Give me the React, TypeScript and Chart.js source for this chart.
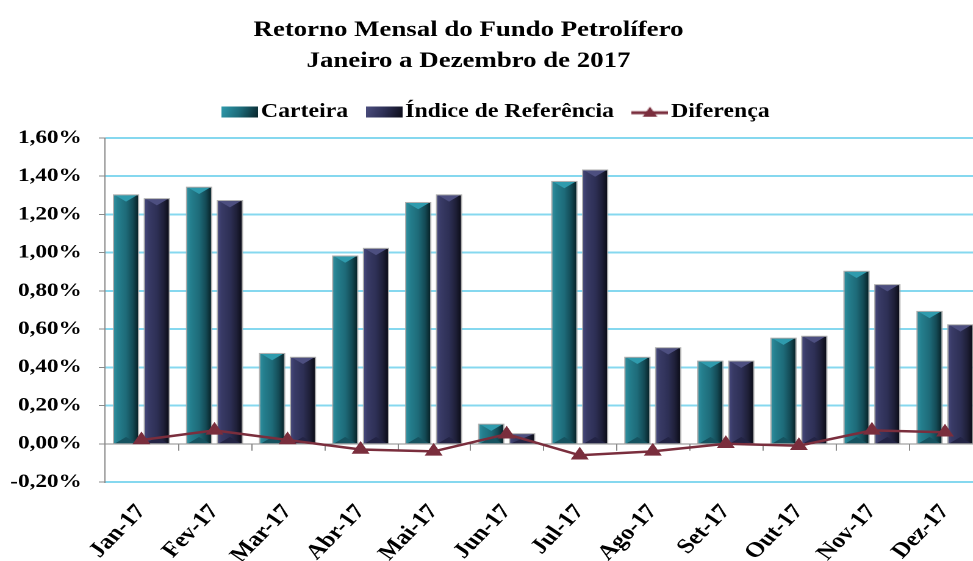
import React, { useEffect, useRef } from 'react';
import { Chart, registerables } from 'chart.js';

Chart.register(...registerables);

// ---------- data ----------
const categories = ['Jan-17', 'Fev-17', 'Mar-17', 'Abr-17', 'Mai-17', 'Jun-17', 'Jul-17', 'Ago-17', 'Set-17', 'Out-17', 'Nov-17', 'Dez-17'];
const carteira = [1.30, 1.34, 0.47, 0.98, 1.26, 0.10, 1.37, 0.45, 0.43, 0.55, 0.90, 0.69];
const indice = [1.28, 1.27, 0.45, 1.02, 1.30, 0.05, 1.43, 0.50, 0.43, 0.56, 0.83, 0.62];
const diferenca = [0.02, 0.07, 0.02, -0.03, -0.04, 0.05, -0.06, -0.04, 0.00, -0.01, 0.07, 0.06];
const seriesNames = ['Carteira', 'Índice de Referência', 'Diferença'];
const titleLines = ['Retorno Mensal do Fundo Petrolífero', 'Janeiro a Dezembro de 2017'];
const yMin = -0.2;
const yMax = 1.6;
const yStep = 0.2;

// ---------- style / layout ----------
const FONT = '"Liberation Serif", "Times New Roman", serif';
const STRETCH = 1.22; // the reference is horizontally stretched
const CANVAS_W = 813;
const CANVAS_H = 561;
const TITLE_X = 384;
const TITLE_Y = [36, 67];
const Y_AXIS_W = 78;
const X_AXIS_H = 79;

const palettes = [
  { edge: '#2f8e9e', light: '#257f8e', base: '#1e6b79', shade: '#144b56', dark: '#08242a', top: '#2f9bad', bottom: '#165360' },
  { edge: '#45477a', light: '#393b66', base: '#2e3056', shade: '#1f2039', dark: '#0c0d19', top: '#4d4f80', bottom: '#232445' },
];
const lineColor = '#7a2e3d';

function drawBevelBar(ctx: CanvasRenderingContext2D, el: any, pal: any) {
  const p = el.getProps(['x', 'y', 'base', 'width'], true);
  const l = p.x - p.width / 2;
  const r = p.x + p.width / 2;
  const t = Math.min(p.y, p.base);
  const b = Math.max(p.y, p.base);
  const h = b - t;
  if (h <= 0) return;
  const g = ctx.createLinearGradient(l, 0, r, 0);
  g.addColorStop(0, pal.edge);
  g.addColorStop(0.15, pal.light);
  g.addColorStop(0.5, pal.base);
  g.addColorStop(0.78, pal.shade);
  g.addColorStop(1, pal.dark);
  ctx.fillStyle = g;
  ctx.fillRect(l, t, p.width, h);
  const bev = Math.min(p.width * 0.32, h / 2);
  ctx.fillStyle = pal.top;
  ctx.beginPath();
  ctx.moveTo(l + 1, t);
  ctx.lineTo(r - 1, t);
  ctx.lineTo(p.x, t + bev);
  ctx.closePath();
  ctx.fill();
  ctx.fillStyle = pal.bottom;
  ctx.beginPath();
  ctx.moveTo(l + 1, b);
  ctx.lineTo(r - 1, b);
  ctx.lineTo(p.x, b - bev);
  ctx.closePath();
  ctx.fill();
  ctx.strokeStyle = 'rgba(160,160,160,0.85)';
  ctx.lineWidth = 1;
  ctx.strokeRect(l - 0.5, t - 0.5, p.width + 1, h + 1);
}

const bevelPlugin = {
  id: 'bevelBars',
  afterDatasetDraw(chart: any, args: any) {
    const meta = args.meta;
    if (meta.type !== 'bar') return;
    const pal = palettes[args.index];
    const ctx = chart.ctx;
    ctx.save();
    meta.data.forEach((el: any) => drawBevelBar(ctx, el, pal));
    ctx.restore();
  },
};

const zeroTicksPlugin = {
  id: 'zeroTicks',
  beforeDatasetsDraw(chart: any) {
    const xs = chart.scales.x;
    const ys = chart.scales.y;
    const y0 = ys.getPixelForValue(0);
    const n = xs.ticks.length;
    const w = (xs.right - xs.left) / n;
    const ctx = chart.ctx;
    ctx.save();
    ctx.strokeStyle = '#8a8a8a';
    ctx.lineWidth = 1;
    ctx.beginPath();
    for (let i = 1; i <= n; i++) {
      const x = Math.round(xs.left + i * w) + 0.5;
      ctx.moveTo(x, y0);
      ctx.lineTo(x, y0 + 7);
    }
    ctx.stroke();
    ctx.restore();
  },
};

const titlePlugin = {
  id: 'fundTitle',
  afterDraw(chart: any) {
    const ctx = chart.ctx;
    ctx.save();
    ctx.font = `bold 22px ${FONT}`;
    ctx.fillStyle = '#000';
    ctx.textAlign = 'center';
    ctx.textBaseline = 'alphabetic';
    titleLines.forEach((t, i) => ctx.fillText(t, TITLE_X, TITLE_Y[i]));
    ctx.restore();
  },
};

const legendGapPlugin = {
  id: 'legendGap',
  beforeLayout(chart: any) {
    const lg = chart.legend;
    if (lg && !lg._gapPatched) {
      const fit = lg.fit.bind(lg);
      lg.fit = () => {
        fit();
        lg.height += 6.5;
      };
      lg._gapPatched = true;
    }
  },
};

function makeSwatch(pal: any) {
  const c = document.createElement('canvas');
  c.width = 30;
  c.height = 11;
  const g = c.getContext('2d')!;
  const grad = g.createLinearGradient(0, 0, 30, 11);
  grad.addColorStop(0, pal.top);
  grad.addColorStop(0.5, pal.base);
  grad.addColorStop(1, pal.dark);
  g.fillStyle = grad;
  g.fillRect(0, 0, 30, 11);
  return c;
}

function makeLineIcon() {
  const c = document.createElement('canvas');
  c.width = 30;
  c.height = 12;
  const g = c.getContext('2d')!;
  g.strokeStyle = lineColor;
  g.lineWidth = 3;
  g.beginPath();
  g.moveTo(0, 7);
  g.lineTo(30, 7);
  g.stroke();
  g.fillStyle = lineColor;
  g.beginPath();
  g.moveTo(15, 1);
  g.lineTo(21, 11);
  g.lineTo(9, 11);
  g.closePath();
  g.fill();
  return c;
}

const fmtPct = (v: number) => (Math.round(v * 100) / 100).toFixed(2).replace('.', ',') + '%';
const isZero = (v: number) => Math.abs(v) < 1e-9;

export default function App() {
  const ref = useRef<HTMLCanvasElement>(null);

  useEffect(() => {
    const canvas = ref.current;
    if (!canvas) return;
    const icons = [makeSwatch(palettes[0]), makeSwatch(palettes[1]), makeLineIcon()];
    const rot = (Math.atan(STRETCH) * 180) / Math.PI;

    const chart = new Chart(canvas, {
      type: 'bar',
      data: {
        labels: categories,
        datasets: [
          {
            type: 'bar',
            label: seriesNames[0],
            data: carteira,
            backgroundColor: palettes[0].base,
            borderWidth: 0,
            categoryPercentage: 0.844,
            barPercentage: 0.774,
            order: 2,
          },
          {
            type: 'bar',
            label: seriesNames[1],
            data: indice,
            backgroundColor: palettes[1].base,
            borderWidth: 0,
            categoryPercentage: 0.844,
            barPercentage: 0.774,
            order: 2,
          },
          {
            type: 'line',
            label: seriesNames[2],
            data: diferenca,
            borderColor: lineColor,
            backgroundColor: lineColor,
            borderWidth: 2.5,
            pointStyle: 'triangle',
            pointRadius: 6,
            pointBackgroundColor: lineColor,
            pointBorderColor: lineColor,
            tension: 0,
            order: 1,
          } as any,
        ],
      },
      options: {
        responsive: false,
        animation: false,
        devicePixelRatio: 2,
        layout: { padding: { top: 80, left: 8, right: 1, bottom: 0 } },
        plugins: {
          title: { display: false },
          tooltip: { enabled: false },
          legend: {
            display: true,
            position: 'top',
            labels: {
              usePointStyle: true,
              pointStyleWidth: 15,
              padding: 22,
              color: '#000',
              font: { family: FONT, size: 19.5, weight: 'bold' },
              generateLabels: (ch: any) =>
                ch.data.datasets.map((ds: any, i: number) => ({
                  text: ds.label,
                  pointStyle: icons[i],
                  fillStyle: 'rgba(0,0,0,0)',
                  strokeStyle: 'rgba(0,0,0,0)',
                  lineWidth: 0,
                  hidden: false,
                  datasetIndex: i,
                })),
            },
          },
        },
        scales: {
          x: {
            grid: { display: false, drawTicks: false },
            border: { display: false },
            afterFit: (s: any) => {
              s.paddingLeft = 0;
              s.paddingRight = 0;
              s.height = X_AXIS_H;
            },
            ticks: {
              autoSkip: false,
              minRotation: rot,
              maxRotation: rot,
              padding: 18,
              color: '#000',
              font: { family: FONT, size: 21, weight: 'bold' },
            },
          },
          y: {
            min: yMin,
            max: yMax,
            border: { display: true, color: '#8a8a8a', width: 1 },
            afterFit: (s: any) => {
              s.width = Y_AXIS_W;
            },
            grid: {
              color: (c: any) => (isZero(c.tick.value) ? '#8a8a8a' : '#86d8ef'),
              lineWidth: (c: any) => (isZero(c.tick.value) ? 1 : 2),
              tickColor: '#8a8a8a',
              tickWidth: 1,
              tickLength: 5,
              drawTicks: true,
            },
            ticks: {
              stepSize: yStep,
              padding: 14,
              color: '#000',
              font: { family: FONT, size: 19, weight: 'bold' },
              callback: (v: any) => fmtPct(Number(v)),
            },
          },
        },
      },
      plugins: [legendGapPlugin, zeroTicksPlugin, bevelPlugin, titlePlugin],
    } as any);

    return () => chart.destroy();
  }, []);

  return (
    <div
      style={{
        position: 'fixed',
        left: 0,
        top: 0,
        width: 973,
        height: 561,
        overflow: 'hidden',
        background: '#fff',
      }}
    >
      <canvas
        ref={ref}
        width={CANVAS_W}
        height={CANVAS_H}
        style={{ display: 'block', transform: `scaleX(${STRETCH})`, transformOrigin: '0 0' }}
      />
    </div>
  );
}
